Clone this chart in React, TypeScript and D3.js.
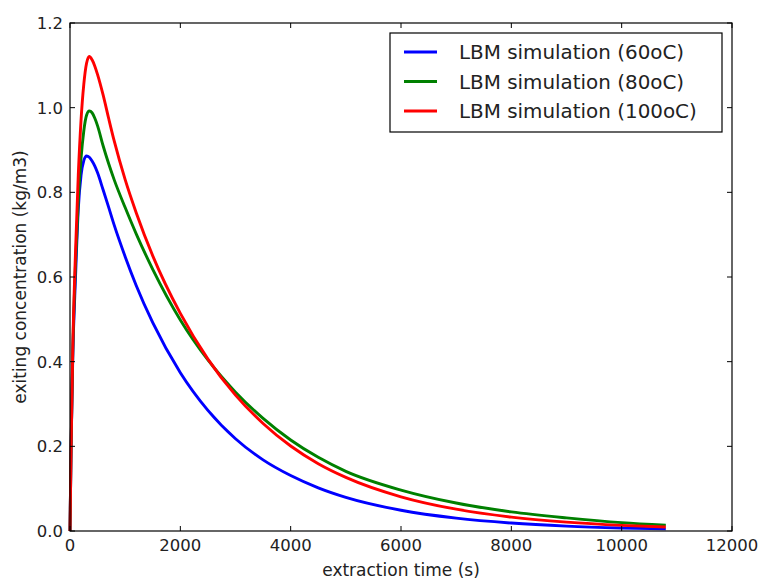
import React from "react";
import * as d3 from "d3";

const times = [0, 20, 50, 100, 150, 200, 250, 300, 350, 400, 450, 500, 600, 700, 800, 1000, 1200, 1500, 2000, 2500, 3000, 3500, 4000, 4500, 5000, 6000, 7000, 8000, 9000, 10000, 10800];
const blue60 = [0, 0.2, 0.41, 0.6, 0.76, 0.84, 0.875, 0.886, 0.883, 0.874, 0.862, 0.846, 0.806, 0.765, 0.723, 0.648, 0.58, 0.492, 0.374, 0.285, 0.218, 0.168, 0.131, 0.102, 0.0795, 0.049, 0.0304, 0.0188, 0.0116, 0.0072, 0.0049];
const green80 = [0, 0.2, 0.42, 0.63, 0.78, 0.88, 0.945, 0.982, 0.992, 0.988, 0.975, 0.957, 0.91, 0.868, 0.83, 0.764, 0.702, 0.618, 0.4985, 0.404, 0.328, 0.266, 0.215, 0.174, 0.141, 0.0967, 0.0661, 0.0452, 0.031, 0.0197, 0.0138];
const red100 = [0, 0.2, 0.43, 0.66, 0.84, 0.97, 1.055, 1.105, 1.121, 1.113, 1.098, 1.078, 1.03, 0.975, 0.922, 0.83, 0.752, 0.65, 0.514, 0.406, 0.321, 0.254, 0.2007, 0.159, 0.1267, 0.0808, 0.0515, 0.0328, 0.021, 0.0134, 0.0093];

const seriesNames = ["LBM simulation (60oC)", "LBM simulation (80oC)", "LBM simulation (100oC)"];
const seriesColors = ["#0000ff", "#008000", "#ff0000"];
const xTicks = [0, 2000, 4000, 6000, 8000, 10000, 12000];
const yTicks = [0, 0.2, 0.4, 0.6, 0.8, 1.0, 1.2];

const W = 761, H = 582;
const L = 70, R = 732, T = 23, B = 531;
const FONT = "DejaVu Sans, sans-serif";

export default function App() {
  const x = d3.scaleLinear().domain([0, 12000]).range([L, R]);
  const y = d3.scaleLinear().domain([0, 1.2]).range([B, T]);
  const allSeries = [blue60, green80, red100];
  const line = d3
    .line<number>()
    .x((_, i) => x(times[i]))
    .y((d) => y(d))
    .curve(d3.curveMonotoneX);
  const tl = 5;
  return (
    <svg width={W} height={H} style={{ position: "absolute", left: 0, top: 0, background: "#fff" }}>
      <rect x={0} y={0} width={W} height={H} fill="#fff" />
      <g>
        {allSeries.map((s, k) => (
          <path key={k} d={line(s) || ""} fill="none" stroke={seriesColors[k]} strokeWidth={2.9} strokeLinejoin="round" />
        ))}
      </g>
      <rect x={L} y={T} width={R - L} height={B - T} fill="none" stroke="#000" strokeWidth={1.2} />
      {xTicks.map((t) => (
        <g key={"x" + t}>
          <line x1={x(t)} x2={x(t)} y1={B} y2={B - tl} stroke="#000" strokeWidth={1} />
          <line x1={x(t)} x2={x(t)} y1={T} y2={T + tl} stroke="#000" strokeWidth={1} />
          <text x={x(t)} y={551} textAnchor="middle" fontFamily={FONT} fontSize={16.5} fill="#222">
            {t}
          </text>
        </g>
      ))}
      {yTicks.map((t) => (
        <g key={"y" + t}>
          <line x1={L} x2={L + tl} y1={y(t)} y2={y(t)} stroke="#000" strokeWidth={1} />
          <line x1={R} x2={R - tl} y1={y(t)} y2={y(t)} stroke="#000" strokeWidth={1} />
          <text x={63} y={y(t)} dy="0.36em" textAnchor="end" fontFamily={FONT} fontSize={16.5} fill="#222">
            {d3.format(".1f")(t)}
          </text>
        </g>
      ))}
      <text x={(L + R) / 2} y={576} textAnchor="middle" fontFamily={FONT} fontSize={17} fill="#222">
        extraction time (s)
      </text>
      <text
        transform={`translate(26,${(T + B) / 2}) rotate(-90)`}
        textAnchor="middle"
        fontFamily={FONT}
        fontSize={17}
        fill="#222"
      >
        exiting concentration (kg/m3)
      </text>
      <g>
        <rect x={390} y={33} width={332} height={99} fill="#fff" stroke="#000" strokeWidth={1.2} />
        {seriesNames.map((n, k) => {
          const yy = 52 + k * 29.5;
          return (
            <g key={n}>
              <line x1={404} x2={437} y1={yy} y2={yy} stroke={seriesColors[k]} strokeWidth={2.9} />
              <text x={459} y={yy} dy="0.36em" fontFamily={FONT} fontSize={19.9} fill="#222">
                {n}
              </text>
            </g>
          );
        })}
      </g>
    </svg>
  );
}
